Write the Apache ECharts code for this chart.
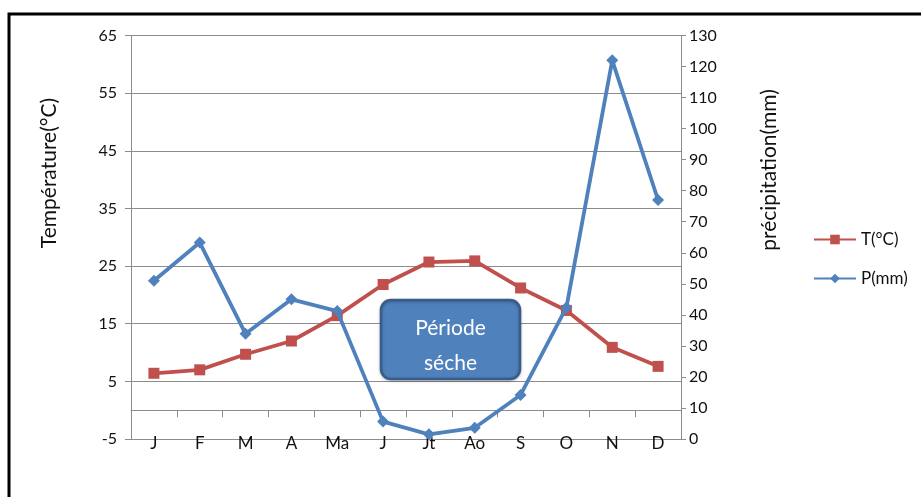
<!DOCTYPE html>
<html>
<head>
<meta charset="utf-8">
<script src="https://cdn.jsdelivr.net/npm/echarts@6/dist/echarts.min.js"></script>
<style>
  html, body { margin: 0; padding: 0; background: #fff; }
  #chart { width: 921px; height: 497px; }
</style>
</head>
<body>
<div id="chart"></div>
<script>
// Diagramme ombrothermique : températures (axe gauche) et précipitations (axe droit)
const months = ['J', 'F', 'M', 'A', 'Ma', 'J', 'Jt', 'Ao', 'S', 'O', 'N', 'D'];
const temperature = [6.4, 7.0, 9.7, 12.0, 16.4, 21.8, 25.7, 25.9, 21.2, 17.3, 10.9, 7.6];
const precipitation = [51.0, 63.3, 33.9, 45.0, 41.2, 5.6, 1.5, 3.6, 14.2, 42.4, 122.0, 77.0];

const FONT = 'Lato, "Noto Sans", sans-serif';
const TEXT = '#111';
const GRID = '#8c8c8c';
const RED = '#C0504D';
const BLUE = '#4F81BD';

const chart = echarts.init(document.getElementById('chart'), null, { renderer: 'canvas' });

chart.setOption({
  backgroundColor: '#fff',
  animation: false,
  textStyle: { fontFamily: FONT },
  grid: { left: 131, right: 240, top: 35.5, height: 403.5, containLabel: false },
  legend: {
    orient: 'vertical',
    left: 808,
    top: 226,
    itemWidth: 42,
    itemHeight: 12,
    itemGap: 22,
    textStyle: { fontFamily: FONT, fontSize: 17, color: TEXT },
    data: ['T(°C)', 'P(mm)']
  },
  xAxis: [
    {
      // axe des mois posé sur la valeur 0 °C, graduations entre les catégories
      type: 'category',
      data: months,
      boundaryGap: true,
      axisLine: { show: true, onZero: true, lineStyle: { color: GRID, width: 1 } },
      axisTick: { show: true, inside: false, length: 7, lineStyle: { color: GRID } },
      axisLabel: { show: false },
      splitLine: { show: false }
    },
    {
      // libellés des mois en bas du graphique
      type: 'category',
      data: months,
      position: 'bottom',
      boundaryGap: true,
      axisLine: { show: false, onZero: false },
      axisTick: { show: false },
      axisLabel: { show: true, margin: -4, fontSize: 17, color: TEXT, fontFamily: FONT },
      splitLine: { show: false }
    }
  ],
  yAxis: [
    {
      type: 'value',
      min: -5,
      max: 65,
      interval: 10,
      position: 'left',
      axisLine: { show: true, lineStyle: { color: GRID } },
      axisTick: { show: true, length: 6, lineStyle: { color: GRID } },
      axisLabel: { margin: 14, fontSize: 16, color: TEXT, fontFamily: FONT },
      splitLine: { show: true, lineStyle: { color: GRID, width: 1 } }
    },
    {
      type: 'value',
      min: 0,
      max: 130,
      interval: 10,
      position: 'right',
      axisLine: { show: true, lineStyle: { color: GRID } },
      axisTick: { show: true, length: 5, lineStyle: { color: GRID } },
      axisLabel: { margin: 8, fontSize: 16, color: TEXT, fontFamily: FONT },
      splitLine: { show: false }
    }
  ],
  series: [
    {
      name: 'T(°C)',
      type: 'line',
      xAxisIndex: 0,
      yAxisIndex: 0,
      data: temperature,
      symbol: 'rect',
      symbolSize: 11,
      itemStyle: { color: RED },
      lineStyle: { color: RED, width: 3.8 },
      z: 3
    },
    {
      name: 'P(mm)',
      type: 'line',
      xAxisIndex: 0,
      yAxisIndex: 1,
      data: precipitation,
      symbol: 'diamond',
      symbolSize: 12,
      itemStyle: { color: BLUE },
      lineStyle: { color: BLUE, width: 3.8 },
      z: 4
    }
  ],
  graphic: [
    {
      // cadre noir du graphique
      type: 'rect',
      shape: { x: 9, y: 14, width: 1000, height: 600 },
      style: { fill: 'none', stroke: '#000', lineWidth: 3 },
      silent: true,
      z: 10
    },
    {
      type: 'text',
      x: 49,
      y: 173,
      rotation: Math.PI / 2,
      style: {
        text: 'Température(°C)',
        fontFamily: FONT,
        fontSize: 21,
        fill: TEXT,
        align: 'center',
        verticalAlign: 'middle'
      }
    },
    {
      type: 'text',
      x: 769,
      y: 170,
      rotation: Math.PI / 2,
      style: {
        text: 'précipitation(mm)',
        fontFamily: FONT,
        fontSize: 21,
        fill: TEXT,
        align: 'center',
        verticalAlign: 'middle'
      }
    },
    // encadré « Période sèche »
    {
      type: 'rect',
      zlevel: 1,
      z: 100,
      shape: { x: 381, y: 300, width: 139, height: 79, r: 10 },
      style: {
        fill: '#4F81BD',
        stroke: '#385D8A',
        lineWidth: 2.5,
        shadowBlur: 3,
        shadowOffsetY: 1,
        shadowColor: 'rgba(0,0,0,0.25)'
      }
    },
    {
      type: 'text',
      zlevel: 1,
      z: 101,
      x: 450.5,
      y: 345.5,
      style: {
        text: 'Période\nséche',
        fontFamily: FONT,
        fontSize: 21,
        lineHeight: 35,
        fill: '#fff',
        align: 'center',
        verticalAlign: 'middle'
      }
    }
  ]
});
</script>
</body>
</html>
